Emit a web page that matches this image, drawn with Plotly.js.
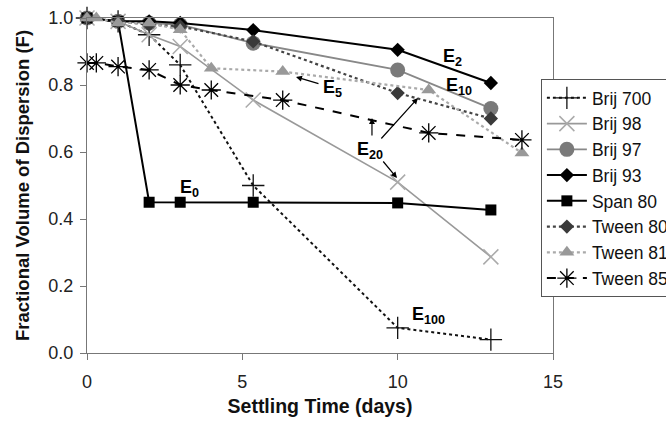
<!DOCTYPE html>
<html><head><meta charset="utf-8">
<script src="https://cdn.plot.ly/plotly-3.0.1.min.js"></script>
<style>html,body{margin:0;padding:0;background:#fff}</style>
</head><body><div id="chart" style="width:666px;height:424px"></div>
<script>
// Data
const seriesNames = ["Brij 700","Brij 98","Brij 97","Brij 93","Span 80","Tween 80","Tween 81","Tween 85"];
const brij700X = [0,1,2,3,5.35,10,13];
const brij700Y = [1.0,0.99,0.95,0.86,0.50,0.075,0.04];
const brij98X  = [0,1,2,3,5.35,10,13];
const brij98Y  = [1.0,0.99,0.95,0.915,0.755,0.51,0.287];
const brij97X  = [0,1,2,3,5.35,10,13];
const brij97Y  = [1.0,0.99,0.985,0.98,0.925,0.845,0.73];
const brij93X  = [0,1,2,3,5.35,10,13];
const brij93Y  = [1.0,0.99,0.99,0.985,0.964,0.905,0.806];
const span80X  = [0,1,2,3,5.35,10,13];
const span80Y  = [1.0,0.99,0.45,0.45,0.45,0.448,0.427];
const tween80X = [0,1,2,3,5.35,10,13];
const tween80Y = [1.0,0.99,0.98,0.975,0.93,0.776,0.70];
const tween81X = [0,0.3,1,2,3,4,6.3,11,14];
const tween81Y = [1.0,1.0,0.985,0.985,0.965,0.85,0.84,0.785,0.597];
const tween85X = [0,0.3,1,2,3,4,6.3,11,14];
const tween85Y = [0.866,0.866,0.855,0.845,0.80,0.785,0.755,0.657,0.636];

const xs = [brij700X,brij98X,brij97X,brij93X,span80X,tween80X,tween81X,tween85X];
const ys = [brij700Y,brij98Y,brij97Y,brij93Y,span80Y,tween80Y,tween81Y,tween85Y];
const styles = [
  {line:{color:'#111',width:2,dash:'dot'}, marker:{symbol:'cross-thin-open',size:16,color:'#111',line:{color:'#111',width:1.3}}},
  {line:{color:'#999',width:1.6,dash:'solid'}, marker:{symbol:'x-thin-open',size:15,color:'#aaa',line:{color:'#aaa',width:1.5}}},
  {line:{color:'#888',width:1.8,dash:'solid'}, marker:{symbol:'circle',size:15,color:'#7a7a7a'}},
  {line:{color:'#000',width:2,dash:'solid'}, marker:{symbol:'diamond',size:11,color:'#000'}},
  {line:{color:'#000',width:2,dash:'solid'}, marker:{symbol:'square',size:11,color:'#000'}},
  {line:{color:'#444',width:2.2,dash:'dot'}, marker:{symbol:'diamond',size:11,color:'#3a3a3a'}},
  {line:{color:'#aaa',width:2.2,dash:'dot'}, marker:{symbol:'triangle-up',size:13,color:'#999'}},
  {line:{color:'#000',width:2,dash:'dash'}, marker:{symbol:'asterisk-open',size:16,color:'#000',line:{color:'#000',width:1.3}}}
];
const traces = seriesNames.map((n,i)=>({
  x: xs[i], y: ys[i], name: n, type:'scatter', mode:'lines+markers',
  line: styles[i].line, marker: styles[i].marker, cliponaxis:false
}));

const px2x = p => (p-87)/31.07, px2y = p => (353-p)/335;
const af = {family:'Liberation Sans, Arial, sans-serif', size:18, color:'#000'};
const labels = [
  {t:'<b>E<sub>2</sub></b>', x:453, y:57},
  {t:'<b>E<sub>10</sub></b>', x:459, y:86},
  {t:'<b>E<sub>5</sub></b>', x:333, y:88},
  {t:'<b>E<sub>0</sub></b>', x:190, y:188},
  {t:'<b>E<sub>100</sub></b>', x:429, y:315},
  {t:'<b>E<sub>20</sub></b>', x:370, y:150}
];
const arrows = [
  {tx:372,ty:137,hx:372,hy:118},
  {tx:380,ty:140,hx:418,hy:98},
  {tx:382,ty:160,hx:397,hy:178},
  {tx:320,ty:84,hx:296,hy:77}
];
const annotations = labels.map(l=>({text:l.t, x:px2x(l.x), y:px2y(l.y), xref:'x', yref:'y', showarrow:false, font:af}))
 .concat(arrows.map(a=>({text:'', x:px2x(a.hx), y:px2y(a.hy), ax:px2x(a.tx), ay:px2y(a.ty), axref:'x', ayref:'y', xref:'x', yref:'y',
   showarrow:true, arrowhead:2, arrowsize:1, arrowwidth:1.2, arrowcolor:'#000'})));

const tickFont = {family:'Liberation Sans, Arial, sans-serif', size:18, color:'#222'};
const layout = {
  width:666, height:424,
  margin:{l:87, r:113, t:18, b:71, autoexpand:false},
  paper_bgcolor:'#fff', plot_bgcolor:'#fff',
  showlegend:true,
  xaxis:{range:[0,15], tickvals:[0,5,10,15], ticks:'outside', ticklen:6, tickcolor:'#777', ticklabelstandoff:6,
    showline:true, linecolor:'#777', linewidth:1, mirror:true, showgrid:false, zeroline:false,
    tickfont:tickFont,
    title:{text:'<b>Settling Time (days)</b>', font:{family:'Liberation Sans, Arial, sans-serif', size:19.5, color:'#111'}, standoff:8}},
  yaxis:{range:[0,1.0], tickvals:[0,0.2,0.4,0.6,0.8,1.0], tickformat:'.1f', ticks:'outside', ticklen:6, tickcolor:'#777', ticklabelstandoff:3,
    showline:true, linecolor:'#777', linewidth:1, mirror:true, showgrid:false, zeroline:false,
    tickfont:tickFont,
    title:{text:'<b>Fractional Volume of Dispersion (F)</b>', font:{family:'Liberation Sans, Arial, sans-serif', size:18.5, color:'#111'}, standoff:13}},
  legend:{x:0.974, y:0.818, xanchor:'left', yanchor:'top', bgcolor:'#fff', bordercolor:'#555', borderwidth:1,
    font:{family:'Liberation Sans, Arial, sans-serif', size:17.5, color:'#111'}, itemwidth:40, traceorder:'normal'},
  annotations: annotations
};
Plotly.newPlot('chart', traces, layout, {staticPlot:true});
</script></body></html>
